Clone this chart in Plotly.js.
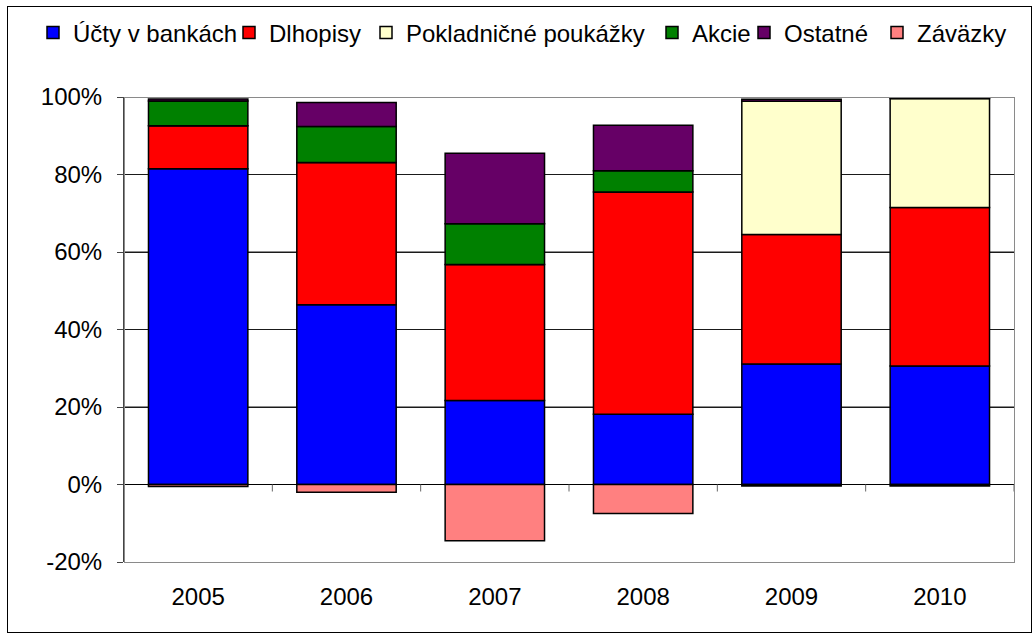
<!DOCTYPE html>
<html>
<head>
<meta charset="utf-8">
<script src="https://cdn.plot.ly/plotly-3.0.1.min.js"></script>
<style>
  html, body { margin: 0; padding: 0; background: #fff; }
  #wrap { position: relative; width: 1035px; height: 637px; }
  #chart { width: 1035px; height: 637px; }
  #frame { position: absolute; left: 7px; top: 6px; width: 1023px; height: 625px; border: 1px solid #000; pointer-events: none; }
  #plotframe { position: absolute; left: 124px; top: 97px; width: 889px; height: 464px; border: 1px solid #8a8a8a; pointer-events: none; }
</style>
</head>
<body>
<div id="wrap"><div id="chart"></div><div id="plotframe"></div><div id="frame"></div></div>
<script>
const years = ['2005', '2006', '2007', '2008', '2009', '2010'];
const seriesNames = ['Účty v bankách', 'Dlhopisy', 'Pokladničné poukážky', 'Akcie', 'Ostatné', 'Záväzky'];
const ucty = [81.5, 46.4, 21.7, 18.1, 31.1, 30.6];
const dlhopisy = [11.1, 36.7, 35.1, 57.4, 33.4, 40.9];
const poukazky = [0, 0, 0, 0, 34.4, 28.1];
const akcie = [6.4, 9.3, 10.5, 5.5, 0, 0];
const ostatne = [0.5, 6.2, 18.2, 11.7, 0.5, 0.1];
const zavazky = [-0.5, -2.0, -14.5, -7.5, -0.4, -0.4];
const yTicks = [-20, 0, 20, 40, 60, 80, 100];
const yTickLabels = ['-20%', '0%', '20%', '40%', '60%', '80%', '100%'];

const colors = ['#0000FF', '#FF0000', '#FFFFCC', '#008000', '#660066', '#FF8080'];
const values = [ucty, dlhopisy, poukazky, akcie, ostatne, zavazky];
// left pixel of each legend entry's symbol (layout only)
const legendSymbolX = [47, 243, 380, 666, 758, 891];

const W = 1035, H = 637;
const L = 124, R = 1014, T = 97, B = 562;
const legendIds = ['legend', 'legend2', 'legend3', 'legend4', 'legend5', 'legend6'];

const traces = values.map((v, i) => ({
  type: 'bar',
  name: seriesNames[i],
  x: years,
  y: v,
  legend: legendIds[i],
  marker: { color: colors[i], line: { color: '#000', width: 1.5 } },
  hoverinfo: 'x+y+name'
}));

const layout = {
  width: W, height: H,
  margin: { l: L, r: W - R, t: T, b: H - B, autoexpand: false },
  paper_bgcolor: '#fff', plot_bgcolor: '#fff',
  barmode: 'relative',
  bargap: 0.33,
  font: { family: 'Liberation Sans, Arial, sans-serif', color: '#000', size: 24 },
  showlegend: true,
  xaxis: {
    type: 'category', categoryorder: 'array', categoryarray: years,
    range: [-0.5, years.length - 0.5],
    showgrid: false, zeroline: false,
    showline: false, ticks: '', ticklabelstandoff: 18,
    tickfont: { size: 24 }
  },
  yaxis: {
    range: [-20, 100], tickmode: 'array', tickvals: yTicks, ticktext: yTickLabels,
    showgrid: true, gridcolor: '#1a1a1a', gridwidth: 1,
    zeroline: true, zerolinecolor: '#000', zerolinewidth: 1,
    showline: true, linecolor: '#444', linewidth: 1,
    ticks: 'outside', ticklen: 6, tickcolor: '#444', ticklabelstandoff: 10,
    tickfont: { size: 24 }
  },
  shapes: []
};

// horizontal gridlines at the inner tick values
yTicks.filter(v => v > 0 && v < 100).forEach(v => {
  layout.shapes.push({
    type: 'line', xref: 'paper', yref: 'y', x0: 0, x1: 1, y0: v, y1: v,
    line: { color: '#1a1a1a', width: 1 }, layer: 'below'
  });
});

// small tick marks hanging below the zero line at category boundaries
for (let i = 0; i < years.length; i++) {
  layout.shapes.push({
    type: 'line', xref: 'x', yref: 'y', ysizemode: 'pixel', yanchor: 0,
    x0: i + 0.5, x1: i + 0.5, y0: 0, y1: -7,
    line: { color: '#666', width: 1 }
  });
}

legendIds.forEach((id, i) => {
  layout[id] = {
    orientation: 'h',
    xref: 'container', yref: 'container',
    x: (legendSymbolX[i] - 14) / W, xanchor: 'left',
    y: 1 - 33 / H, yanchor: 'middle',
    font: { size: 24, color: '#000' },
    bgcolor: 'rgba(0,0,0,0)', borderwidth: 0,
    itemclick: false, itemdoubleclick: false
  };
});

Plotly.newPlot('chart', traces, layout, { displayModeBar: false, staticPlot: true });
</script>
</body>
</html>
